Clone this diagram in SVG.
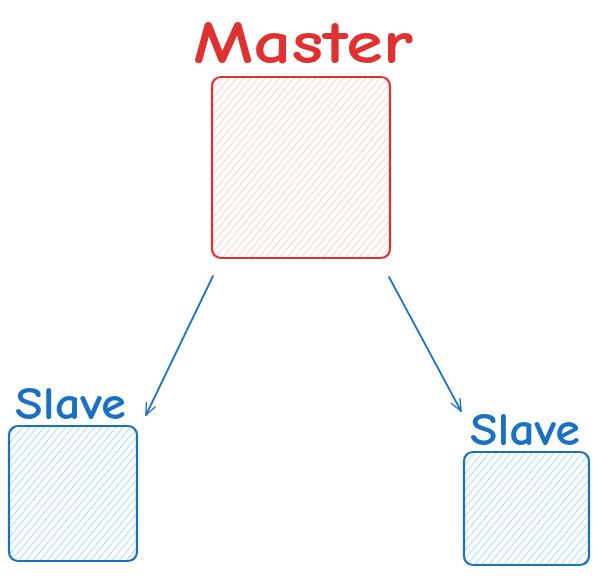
<svg xmlns="http://www.w3.org/2000/svg" width="598" height="580" viewBox="0 0 598 580">
<style>
.lbl{font-family:"Comic Neue","Liberation Sans","DejaVu Sans",sans-serif;font-weight:bold;}
.red{fill:#e03131;}
.blue{fill:#1971c2;}
.box-r{fill:url(#hr);stroke:#e03131;stroke-width:2.2;}
.box-b{fill:url(#hb);stroke:#1971c2;stroke-width:2.2;}
.conn{stroke:#1971c2;stroke-width:1.8;fill:none;stroke-linecap:round;}
</style>
<defs>
<pattern id="hr" patternUnits="userSpaceOnUse" width="5.5" height="6" patternTransform="rotate(40)">
<line x1="0" y1="0" x2="0" y2="6" stroke="#ffc9c9" stroke-width="1.8"/>
</pattern>
<pattern id="hb" patternUnits="userSpaceOnUse" width="5.5" height="6" patternTransform="rotate(40)">
<line x1="0" y1="0" x2="0" y2="6" stroke="#a5d8ff" stroke-width="1.8"/>
</pattern>
<marker id="arr" viewBox="0 0 20 20" refX="18" refY="10" markerWidth="14" markerHeight="14" markerUnits="userSpaceOnUse" orient="auto">
<path d="M2,3 L18,10 L2,17" fill="none" stroke="#1971c2" stroke-width="2" stroke-linecap="round"/>
</marker>
</defs>
<rect width="598" height="580" fill="#ffffff"/>
<g id="master">
<text class="lbl red" x="193" y="63" font-size="60" textLength="220" lengthAdjust="spacingAndGlyphs">Master</text>
<rect class="box-r" x="212" y="77" width="178" height="181" rx="9"/>
</g>
<g id="slave-left">
<text class="lbl blue" x="15" y="419" font-size="46" textLength="111" lengthAdjust="spacingAndGlyphs">Slave</text>
<rect class="box-b" x="9" y="426" width="128" height="135" rx="9"/>
</g>
<g id="slave-right">
<text class="lbl blue" x="470" y="445" font-size="47" textLength="110" lengthAdjust="spacingAndGlyphs">Slave</text>
<rect class="box-b" x="464" y="452" width="125" height="113" rx="9"/>
</g>
<g id="connectors">
<path class="conn" d="M213,276 L146,415" marker-end="url(#arr)"/>
<path class="conn" d="M389,277 L461,411" marker-end="url(#arr)"/>
</g>
</svg>
